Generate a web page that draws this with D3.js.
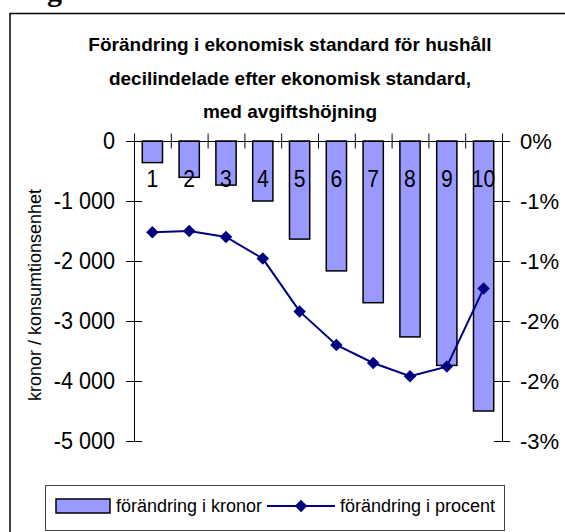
<!DOCTYPE html>
<html>
<head>
<meta charset="utf-8">
<script src="https://cdn.jsdelivr.net/npm/d3@7"></script>
<style>
  body { margin: 0; background: #fff; }
  text { font-family: "Liberation Sans", Arial, sans-serif; }
</style>
</head>
<body>
<div id="chart"></div>
<script>
// data
const deciles = ["1", "2", "3", "4", "5", "6", "7", "8", "9", "10"];
const kronor = [-360, -605, -735, -1000, -1635, -2165, -2695, -3265, -3740, -4500];
const procent = [-0.76, -0.75, -0.80, -0.98, -1.42, -1.70, -1.85, -1.96, -1.88, -1.23];

const leftTicks = [0, -1000, -2000, -3000, -4000, -5000];
const leftTickLabels = ["0", "-1 000", "-2 000", "-3 000", "-4 000", "-5 000"];
const rightTicks = [0, -0.5, -1, -1.5, -2, -2.5];
const rightTickLabels = ["0%", "-1%", "-1%", "-2%", "-2%", "-3%"];

const titleLines = [
    "Förändring i ekonomisk standard för hushåll",
    "decilindelade efter ekonomisk standard,",
    "med avgiftshöjning"
];
const yTitle = "kronor / konsumtionsenhet";
const legendLabels = ["förändring i kronor", "förändring i procent"];

const width = 565, height = 532;
const plot = {left: 134, right: 502, top: 141, bottom: 441};

const barFill = "#9999ff", lineColor = "#000080";

// squeeze text horizontally, the original uses a narrow-looking face
function condense(sel, k) {
    sel.each(function() {
        const w = this.getComputedTextLength();
        d3.select(this)
            .attr("textLength", w * k)
            .attr("lengthAdjust", "spacingAndGlyphs");
    });
}

const svg = d3.select("#chart")
    .append("svg")
    .attr("width", width)
    .attr("height", height);

// outer frame (cut off by the picture on right and bottom)
svg.append("rect")
    .attr("x", 10).attr("y", 13.5)
    .attr("width", 600).attr("height", 600)
    .attr("fill", "none")
    .attr("stroke", "#000")
    .attr("stroke-width", 1.5);

// leftover glyph from the text above the figure
svg.append("text")
    .attr("x", 47).attr("y", 1)
    .style("font-family", "'Liberation Serif', 'Times New Roman', serif")
    .style("font-weight", "bold")
    .style("font-size", "30px")
    .text("g");

// title
svg.append("g")
    .selectAll("text")
    .data(titleLines)
    .join("text")
    .attr("x", 290)
    .attr("y", (d, i) => 51 + i * 33.5)
    .attr("text-anchor", "middle")
    .style("font-weight", "bold")
    .style("font-size", "19px")
    .text(d => d);

// scales
const x = d3.scaleBand()
    .domain(deciles)
    .range([plot.left, plot.right])
    .paddingInner(0.45)
    .paddingOuter(0.225);

const xEdge = d3.scaleLinear()
    .domain([0, deciles.length])
    .range([plot.left, plot.right]);

const yLeft = d3.scaleLinear()
    .domain([0, -5000])
    .range([plot.top, plot.bottom]);

const yRight = d3.scaleLinear()
    .domain([0, -2.5])
    .range([plot.top, plot.bottom]);

// bars
svg.append("g")
    .selectAll("rect")
    .data(kronor)
    .join("rect")
    .attr("x", (d, i) => x(deciles[i]))
    .attr("y", yLeft(0))
    .attr("width", x.bandwidth())
    .attr("height", d => yLeft(d) - yLeft(0))
    .attr("fill", barFill)
    .attr("stroke", "#000")
    .attr("stroke-width", 1.5);

// left axis
const leftAxis = svg.append("g")
    .attr("transform", `translate(${plot.left},0)`)
    .call(d3.axisLeft(yLeft)
        .tickValues(leftTicks)
        .tickFormat((d, i) => leftTickLabels[i])
        .tickSizeOuter(0)
        .tickPadding(13));
leftAxis.select(".domain").attr("stroke", "#000");
leftAxis.selectAll(".tick line").attr("x1", 8).attr("x2", -8).attr("stroke", "#000");
leftAxis.selectAll(".tick text")
    .style("font-size", "24px")
    .style("font-family", "'Liberation Sans', Arial, sans-serif")
    .attr("fill", "#000")
    .call(condense, 0.9);

// right axis
const rightAxis = svg.append("g")
    .attr("transform", `translate(${plot.right},0)`)
    .call(d3.axisRight(yRight)
        .tickValues(rightTicks)
        .tickFormat((d, i) => rightTickLabels[i])
        .tickSizeOuter(0)
        .tickPadding(12));
rightAxis.select(".domain").attr("stroke", "#000");
rightAxis.selectAll(".tick line").attr("x1", -8).attr("x2", 8).attr("stroke", "#000");
rightAxis.selectAll(".tick text")
    .style("font-size", "22px")
    .style("font-family", "'Liberation Sans', Arial, sans-serif")
    .attr("fill", "#000");

// category axis along the zero line, ticks between deciles
const catAxis = svg.append("g")
    .attr("transform", `translate(0,${yLeft(0)})`)
    .call(d3.axisTop(xEdge)
        .tickValues(d3.range(deciles.length + 1))
        .tickFormat("")
        .tickSizeOuter(0));
catAxis.select(".domain").attr("stroke", "#000");
catAxis.selectAll(".tick line").attr("y1", -7.5).attr("y2", 7.5).attr("stroke", "#000");

// decile labels
svg.append("g")
    .selectAll("text")
    .data(deciles)
    .join("text")
    .attr("x", d => x(d) + x.bandwidth() / 2)
    .attr("y", 187)
    .attr("text-anchor", "middle")
    .style("font-size", "24px")
    .text(d => d)
    .call(condense, 0.88);

// percent line
const line = d3.line()
    .x((d, i) => x(deciles[i]) + x.bandwidth() / 2)
    .y(d => yRight(d));

svg.append("path")
    .datum(procent)
    .attr("d", line)
    .attr("fill", "none")
    .attr("stroke", lineColor)
    .attr("stroke-width", 2);

const diamond = d3.symbol().type(d3.symbolSquare).size(78);

svg.append("g")
    .selectAll("path")
    .data(procent)
    .join("path")
    .attr("d", diamond)
    .attr("transform", (d, i) =>
        `translate(${x(deciles[i]) + x.bandwidth() / 2},${yRight(d)}) rotate(45)`)
    .attr("fill", lineColor);

// y axis title
svg.append("text")
    .attr("transform", "translate(41,295) rotate(-90)")
    .attr("text-anchor", "middle")
    .style("font-size", "18px")
    .text(yTitle);

// legend
const legend = svg.append("g");
legend.append("rect")
    .attr("x", 45.5).attr("y", 485.5)
    .attr("width", 459).attr("height", 45)
    .attr("fill", "#fff")
    .attr("stroke", "#444")
    .attr("stroke-width", 1);

legend.append("rect")
    .attr("x", 56).attr("y", 499)
    .attr("width", 54).attr("height", 14)
    .attr("fill", barFill)
    .attr("stroke", "#000")
    .attr("stroke-width", 1.5);

legend.append("text")
    .attr("x", 116).attr("y", 512)
    .style("font-size", "18px")
    .text(legendLabels[0]);

legend.append("line")
    .attr("x1", 267).attr("x2", 335)
    .attr("y1", 506).attr("y2", 506)
    .attr("stroke", lineColor)
    .attr("stroke-width", 2);

legend.append("path")
    .attr("d", diamond)
    .attr("transform", "translate(301,506) rotate(45)")
    .attr("fill", lineColor);

legend.append("text")
    .attr("x", 340).attr("y", 512)
    .style("font-size", "18px")
    .text(legendLabels[1]);
</script>
</body>
</html>
